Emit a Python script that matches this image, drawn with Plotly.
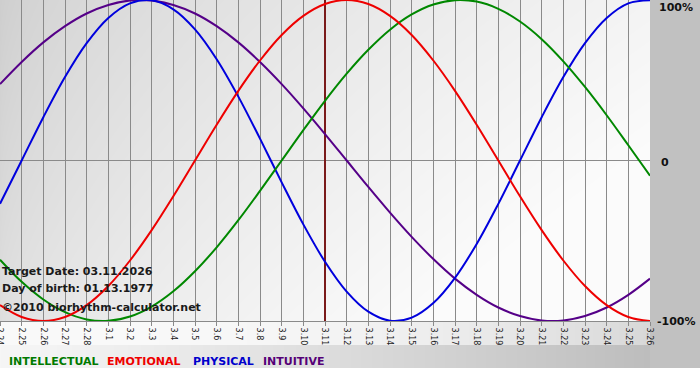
import base64
import struct
import zlib

import numpy as np
import plotly.graph_objects as go

# ---------------- data ----------------
day_offset = list(range(-15, 16))  # days relative to target date 03.11.2026
tick_labels = ["2.24", "2.25", "2.26", "2.27", "2.28",
               "3.1", "3.2", "3.3", "3.4", "3.5", "3.6", "3.7", "3.8", "3.9", "3.10",
               "3.11", "3.12", "3.13", "3.14", "3.15", "3.16", "3.17", "3.18", "3.19", "3.20",
               "3.21", "3.22", "3.23", "3.24", "3.25", "3.26"]

physical = [-0.270, 0.000, 0.270, 0.520, 0.731, 0.888, 0.979, 0.998, 0.942, 0.817, 0.631, 0.398,
            0.136, -0.136, -0.398, -0.631, -0.817, -0.942, -0.998, -0.979, -0.888, -0.731, -0.520,
            -0.270, 0.000, 0.270, 0.520, 0.731, 0.888, 0.979, 0.998]
emotional = [-0.901, -0.975, -1.000, -0.975, -0.901, -0.782, -0.623, -0.434, -0.223, 0.000, 0.223,
             0.434, 0.623, 0.782, 0.901, 0.975, 1.000, 0.975, 0.901, 0.782, 0.623, 0.434, 0.223, 0.000,
             -0.223, -0.434, -0.623, -0.782, -0.901, -0.975, -1.000]
intellectual = [-0.618, -0.756, -0.866, -0.945, -0.990, -0.999, -0.972, -0.910, -0.815, -0.690, -0.541,
                -0.372, -0.189, 0.000, 0.189, 0.372, 0.541, 0.690, 0.815, 0.910, 0.972, 0.999, 0.990,
                0.945, 0.866, 0.756, 0.618, 0.458, 0.282, 0.095, -0.095]
intuitive = [0.476, 0.614, 0.736, 0.837, 0.916, 0.969, 0.997, 0.997, 0.969, 0.916, 0.837, 0.736, 0.614,
             0.476, 0.325, 0.165, 0.000, -0.165, -0.325, -0.476, -0.614, -0.736, -0.837, -0.916, -0.969,
             -0.997, -0.997, -0.969, -0.916, -0.837, -0.736]

target_offset = 0
y_tick_vals = [1, 0, -1]
y_tick_text = ["100%", "0", "-100%"]
info_lines = ["Target Date: 03.11.2026", "Day of birth: 01.13.1977", "©2010 biorhythm-calculator.net"]
legend_names = ["INTELLECTUAL", "EMOTIONAL", "PHYSICAL", "INTUITIVE"]

# ---------------- styles ----------------
W, H = 700, 380
ML, MR, MT, MB = 0, 50, 0, 59
PW, PH = W - ML - MR, H - MT - MB
FONT = "DejaVu Sans"
line_colors = {"INTELLECTUAL": "#008800", "EMOTIONAL": "#ee0000",
               "PHYSICAL": "#0000dd", "INTUITIVE": "#550088"}
legend_colors = {"INTELLECTUAL": "#007a00", "EMOTIONAL": "#ee0000",
                 "PHYSICAL": "#0000cc", "INTUITIVE": "#550077"}


def png_uri(arr):
    h, w, _ = arr.shape
    raw = b"".join(b"\x00" + arr[i].tobytes() for i in range(h))

    def chunk(t, d):
        c = struct.pack(">I", len(d)) + t + d
        return c + struct.pack(">I", zlib.crc32(t + d) & 0xFFFFFFFF)

    png = (b"\x89PNG\r\n\x1a\n"
           + chunk(b"IHDR", struct.pack(">IIBBBBB", w, h, 8, 2, 0, 0, 0))
           + chunk(b"IDAT", zlib.compress(raw, 9))
           + chunk(b"IEND", b""))
    return "data:image/png;base64," + base64.b64encode(png).decode()


# background (decorative gradients)
yy, xx = np.mgrid[0:H, 0:W].astype(float)
bg = np.full((H, W), 255.0)
bottom = (yy >= PH) & (yy < 368)
bg[bottom] = (246 - 62 * (xx / W) ** 1.2)[bottom]
label_strip = (yy >= PH) & (yy < 345) & (xx < PW)
bg[label_strip] = (250 - 34 * (xx / PW) ** 2.5)[label_strip]
right_col = (xx >= PW) & (yy < 368)
bg[right_col] = 193
plot_area = (xx < PW) & (yy < PH)
bg[plot_area] = np.clip(206 + 38 * (xx / PW) ** 0.6 + 16 * (yy / PH), 0, 251)[plot_area]
bg8 = np.clip(bg, 0, 255).astype(np.uint8)
img = np.stack([bg8, bg8, bg8], axis=-1)

fig = go.Figure()

# target-date marker line
fig.add_trace(go.Scatter(x=[target_offset, target_offset], y=[-1, 1], mode="lines",
                         line=dict(color="#7a1a1a", width=2), showlegend=False, hoverinfo="skip"))

series = {"INTELLECTUAL": intellectual, "EMOTIONAL": emotional,
          "PHYSICAL": physical, "INTUITIVE": intuitive}
for name in ["INTUITIVE", "PHYSICAL", "INTELLECTUAL", "EMOTIONAL"]:
    fig.add_trace(go.Scatter(x=day_offset, y=series[name], mode="lines", name=name,
                             line=dict(color=line_colors[name], width=2, shape="spline", smoothing=1.0),
                             showlegend=False, hoverinfo="skip"))

fig.add_layout_image(dict(source=png_uri(img), xref="paper", yref="paper", x=0, y=1,
                          sizex=W / PW, sizey=H / PH, xanchor="left", yanchor="top",
                          sizing="stretch", layer="below"))

annotations = []
# right-side percentage labels
for v, t in zip(y_tick_vals, y_tick_text):
    annotations.append(dict(x=1, xref="paper", y=v, yref="y", text=t, showarrow=False,
                            xanchor="left", yanchor={1: "top", 0: "middle", -1: "middle"}[v],
                            xshift={1: 7, 0: 9, -1: 5}[v], yshift={1: 1, 0: -2, -1: 0}[v],
                            font=dict(family=FONT, size=11, color="#111111", weight="bold")))

# info text (pixel rows converted to paper coordinates)
for t, py in zip(info_lines, [271, 288, 307]):
    annotations.append(dict(x=0, xref="paper", y=(PH - py) / PH, yref="paper", text=t,
                            showarrow=False, xanchor="left", yanchor="middle", xshift=0,
                            font=dict(family=FONT, size=11, color="#1a1a1a", weight="bold")))

# legend words
for name, lx in zip(legend_names, [7, 105, 191, 261]):
    annotations.append(dict(x=lx / PW, xref="paper", y=(PH - 361) / PH, yref="paper", text=name,
                            showarrow=False, xanchor="left", yanchor="middle",
                            font=dict(family=FONT, size=11, color=legend_colors[name], weight="bold")))

fig.update_layout(
    width=W, height=H, margin=dict(l=ML, r=MR, t=MT, b=MB, autoexpand=False),
    paper_bgcolor="white", plot_bgcolor="rgba(0,0,0,0)",
    font=dict(family=FONT, color="#222222"),
    annotations=annotations,
    xaxis=dict(range=[day_offset[0], day_offset[-1]], tickvals=day_offset, ticktext=tick_labels,
               tickangle=90, tickfont=dict(size=8, color="#222222"), ticklabeloverflow="allow",
               automargin=False,
               showgrid=True, gridcolor="#8a8a8a", gridwidth=1,
               ticks="outside", ticklen=4, tickcolor="#8a8a8a",
               showline=True, linecolor="#8a8a8a", linewidth=1,
               zeroline=False, fixedrange=True),
    yaxis=dict(range=[-1, 1], showgrid=False, showticklabels=False, automargin=False,
               zeroline=True, zerolinecolor="#8a8a8a", zerolinewidth=1,
               showline=False, fixedrange=True),
)

fig.write_html("out.html")
